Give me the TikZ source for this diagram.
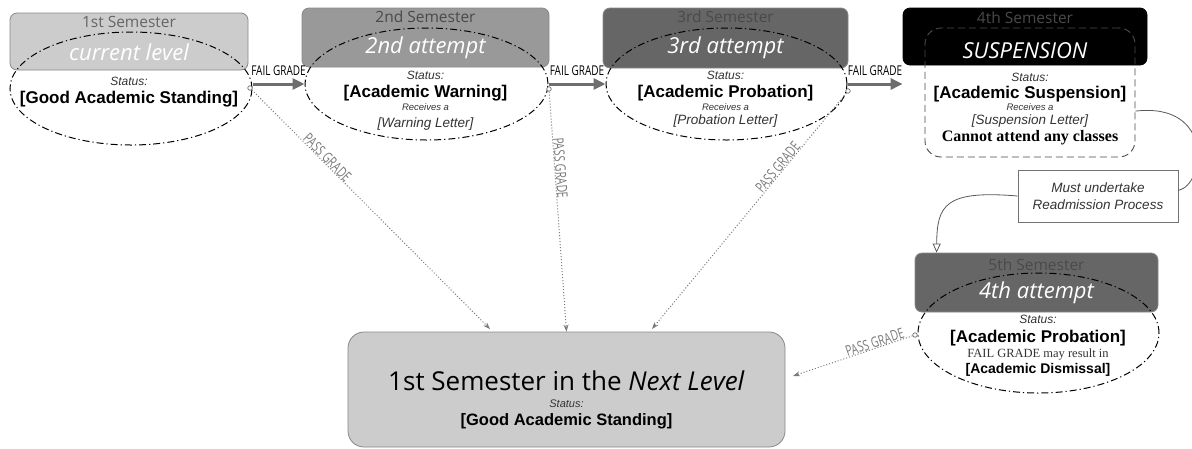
\documentclass[tikz,border=0pt]{standalone}
\usepackage{fontspec}
\setmainfont{Liberation Sans}
\newfontfamily\osans{Open Sans}
\newfontfamily\tnr{Liberation Serif}
\usetikzlibrary{shapes.geometric,arrows.meta}
\newcommand\fsz[1]{\fontsize{#1}{#1}\selectfont}
\definecolor{lgray}{HTML}{CCCCCC}
\definecolor{mgray}{HTML}{999999}
\definecolor{dgray}{HTML}{666666}
\definecolor{bordgray}{HTML}{888888}
\definecolor{hdtxt}{HTML}{4A4A4A}
\definecolor{arrgray}{HTML}{6E6E6E}
\definecolor{passgray}{HTML}{7A7A7A}
\tikzset{
  sembox/.style={draw=bordgray, line width=0.8pt, rounded corners=7pt, minimum width=243, minimum height=58, inner sep=0pt},
  elli/.style={ellipse, draw=black, line width=1pt, dash pattern=on 7pt off 3pt on 1.2pt off 3pt, minimum width=242, minimum height=112, inner sep=0pt},
  hdr/.style={font=\osans\fsz{15.5}, inner sep=0pt},
  hand/.style={font=\osans\itshape\fsz{22}, text=white, inner sep=0pt},
  stat/.style={font=\itshape\fsz{12}, text=black!80, inner sep=0pt},
  big/.style={font=\bfseries\fsz{17}, inner sep=0pt},
  recv/.style={font=\itshape\fsz{9.5}, text=black!80, inner sep=0pt},
  letter/.style={font=\itshape\fsz{13.5}, text=black!80, inner sep=0pt},
  failarr/.style={draw=arrgray, line width=3pt, -{Triangle[length=12pt,width=11pt]}},
  faillbl/.style={inner sep=0pt, font=\osans\fsz{13.5}},
  passarr/.style={draw=passgray, line width=1pt, dotted, -{Stealth[length=7pt,width=5pt]}},
  passlbl/.style={inner sep=0pt, font=\osans\fsz{14.5}, text=passgray},
  dotc/.style={circle, draw=arrgray, line width=0.7pt, minimum size=4.5pt, inner sep=0pt, fill=white},
  curvearr/.style={draw=black!65, line width=0.8pt}
}
\begin{document}
\begin{tikzpicture}[x=1pt,y=-1pt]
\useasboundingbox (0,0) rectangle (1192,448);
\fill[white] (0,0) rectangle (1192,448);

% semester boxes
\node[sembox, fill=lgray, minimum width=238, minimum height=57] (b1) at (129,41.5) {};
\node[sembox, fill=mgray, minimum width=247, minimum height=59] (b2) at (425.5,37.5) {};
\node[sembox, fill=dgray, minimum width=245, minimum height=60] (b3) at (725.5,38) {};
\node[sembox, fill=black, draw=black, minimum width=244, minimum height=57] (b4) at (1025,36.5) {};
\node[sembox, fill=dgray, minimum width=243, minimum height=59] (b5) at (1036.5,282.5) {};

% bottom box
\node[sembox, fill=lgray, rounded corners=16pt, minimum width=437, minimum height=115] (nx) at (566.5,389.5) {};

% ellipses and suspension frame
\node[elli, minimum height=113] (e1) at (131,88.5) {};
\node[elli, minimum width=243] (e2) at (426.5,84) {};
\node[elli, minimum width=241] (e3) at (726.5,84) {};
\node[elli, minimum width=241, minimum height=120] (e5) at (1038.5,333) {};
\node[draw=black!70, line width=0.9pt, dash pattern=on 7pt off 4pt, rounded corners=16pt, minimum width=210, minimum height=129, inner sep=0pt] (su) at (1030,92.5) {};

% headers
\node[hdr, text=hdtxt!85] (h1) at (129,22) {1st Semester};
\node[hand] (a1) at (129,52) {current level};
\node[hdr, text=hdtxt] (h2) at (425.5,17) {2nd Semester};
\node[hand] (a2) at (425.5,48) {2nd attempt};
\node[hdr, text=hdtxt] (h3) at (725.5,17) {3rd Semester};
\node[hand] (a3) at (725.5,48) {3rd attempt};
\node[hdr, text=hdtxt] (h4) at (1025,18) {4th Semester};
\node[hand] (a4) at (1025,51) {SUSPENSION};
\node[hdr, text=hdtxt] (h5) at (1036.5,265) {5th Semester};
\node[hand] (a5) at (1036.5,293) {4th attempt};

% ellipse 1 text
\node[stat] (s1) at (129,81) {Status:};
\node[big] (g1) at (129,99) {[Good Academic Standing]};
% ellipse 2
\node[stat] (s2) at (425.5,75) {Status:};
\node[big] (g2) at (425.5,93) {[Academic Warning]};
\node[recv] (r2) at (425.5,107.5) {Receives a};
\node[letter] (l2) at (425.5,124) {[Warning Letter]};
% ellipse 3
\node[stat] (s3) at (725.5,75) {Status:};
\node[big] (g3) at (725.5,93) {[Academic Probation]};
\node[recv] (r3) at (725.5,107.5) {Receives a};
\node[letter] (l3) at (725.5,121) {[Probation Letter]};
% suspension
\node[stat] (s4) at (1030,77) {Status:};
\node[big] (g4) at (1030,94) {[Academic Suspension]};
\node[recv] (r4) at (1030,107.5) {Receives a};
\node[letter] (l4) at (1030,121) {[Suspension Letter]};
\node[font=\tnr\bfseries\fsz{16}, inner sep=0pt] (c4) at (1030,138) {Cannot attend any classes};
% 5th
\node[stat] (s5) at (1038,319) {Status:};
\node[big] (g5) at (1038,338) {[Academic Probation]};
\node[font=\tnr\fsz{12.5}, text=black!80, inner sep=0pt] (f5) at (1038,355) {FAIL GRADE may result in};
\node[font=\bfseries\fsz{14}, inner sep=0pt] (d5) at (1038,370) {[Academic Dismissal]};

% next level
\node[inner sep=0pt, font=\osans\fsz{26}] (nt) at (566.5,381) {1st Semester in the \textit{Next Level}};
\node[stat, font=\itshape\fsz{11}] (ns) at (566.5,404) {Status:};
\node[big, font=\bfseries\fsz{16.5}] (ng) at (566.5,421) {[Good Academic Standing]};

% readmission
\node[draw=black!55, line width=0.8pt, minimum width=160, minimum height=52, inner sep=0pt, align=center, font=\itshape\fsz{13.5}, text=black!80] (rd) at (1098,196) {Must undertake\\[3pt]Readmission Process};

% fail grade arrows
\draw[failarr] (e1.east |- e2.west) -- node[faillbl, yshift=13pt]{\scalebox{0.74}[1]{FAIL GRADE}} (e2.west);
\draw[failarr] (e2.east) -- node[faillbl, yshift=13pt]{\scalebox{0.74}[1]{FAIL GRADE}} (e3.west);
\draw[failarr] (e3.east) -- node[faillbl, yshift=13pt]{\scalebox{0.74}[1]{FAIL GRADE}} (e3.east -| b4.west);

% pass grade
\node[dotc] (c1) at (250,88) {};
\node[dotc] (c2) at (549,89) {};
\node[dotc] (c3) at (848,91) {};
\node[dotc] (c4) at (915,335) {};
\coordinate (t1) at (490,329);
\coordinate (t3) at (652,329);
\coordinate (t4) at (793,376);
\draw[passarr] (c1) -- node[passlbl, sloped, pos=0.3, above=0pt]{\scalebox{0.72}[1]{PASS GRADE}} (t1);
\draw[passarr] (c2) -- node[passlbl, sloped, pos=0.32, above=0pt]{\scalebox{0.72}[1]{PASS GRADE}} (nx.north);
\draw[passarr] (c3) -- node[passlbl, sloped, pos=0.33, above=0pt]{\scalebox{0.72}[1]{PASS GRADE}} (t3);
\draw[passarr] (c4) -- node[passlbl, sloped, pos=0.3, above=0pt]{\scalebox{0.72}[1]{PASS GRADE}} (t4);

% readmission curves
\draw[curvearr] (su.-10) .. controls (1215,102) and (1205,185) .. (rd.4);
\draw[curvearr, -{Triangle[open,length=9pt,width=8pt]}] (rd.west) .. controls (945,190) and (937,205) .. ([xshift=22pt]b5.north west);
\end{tikzpicture}
\end{document}
